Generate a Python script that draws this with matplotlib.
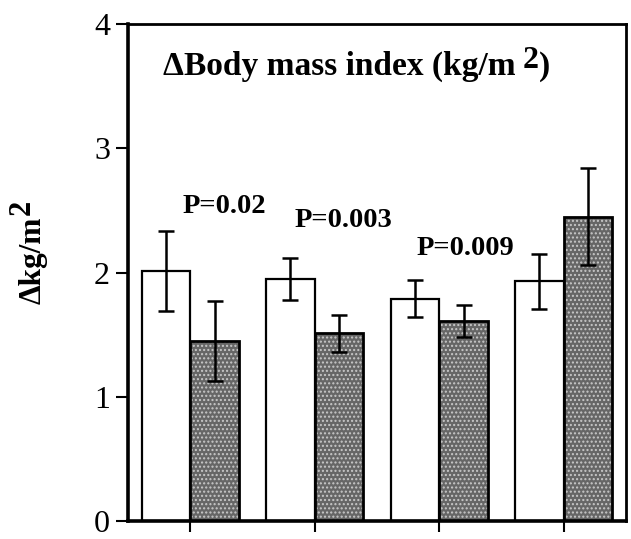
import matplotlib
matplotlib.use("Agg")
import matplotlib.pyplot as plt
import numpy as np

# data
groups = [0.5, 1.5, 2.5, 3.5]
white_vals = [2.01, 1.95, 1.79, 1.93]
white_err = [0.32, 0.17, 0.15, 0.22]
gray_vals = [1.45, 1.51, 1.61, 2.45]
gray_err = [0.32, 0.15, 0.13, 0.39]
p_labels = ["P=0.02", "P=0.003", "P=0.009"]
p_pos = [(0.442, 2.479), (1.341, 2.366), (2.321, 2.141)]
yticks = [0, 1, 2, 3, 4]

SERIF = "Liberation Serif"
W, H = 631, 539

fig = plt.figure(figsize=(W/100, H/100), dpi=100)
ax = fig.add_axes([128/W, 18/H, 498/W, 497/H])

off = 0.196
w = 0.39
xw = [g - off for g in groups]
xg = [g + off for g in groups]

ax.bar(xw, white_vals, width=w, color="white", edgecolor="black", linewidth=1.6, zorder=2)
# stipple fill for gray bars
ax.bar(xg, gray_vals, width=w, color="#666666", edgecolor="#c8c8c8", linewidth=0,
       hatch="....", zorder=2)
ax.bar(xg, gray_vals, width=w, fill=False, edgecolor="black", linewidth=2.0, zorder=3)

ax.errorbar(xw, white_vals, yerr=white_err, fmt="none", ecolor="black", elinewidth=1.8,
            capsize=6, capthick=1.8, zorder=4)
ax.errorbar(xg, gray_vals, yerr=gray_err, fmt="none", ecolor="black", elinewidth=1.8,
            capsize=6, capthick=1.8, zorder=4)

ax.set_xlim(0, 4)
ax.set_ylim(0, 4)
ax.set_yticks(yticks)
ax.set_yticklabels([str(t) for t in yticks], fontfamily=SERIF, fontsize=23)
ax.set_xticks(groups)
ax.set_xticklabels([])
ax.tick_params(axis="y", direction="out", length=9, width=1.5, pad=4)
ax.tick_params(axis="x", direction="out", length=8, width=1.5)
for s in ax.spines.values():
    s.set_linewidth(2.0)
ax.spines["left"].set_linewidth(2.6)
ax.spines["bottom"].set_linewidth(2.6)

for lab, (x, y) in zip(p_labels, p_pos):
    ax.text(x, y, lab, fontfamily=SERIF, fontweight="bold", fontsize=20.5,
            ha="left", va="baseline", zorder=5)

t1 = ax.text(0.281, 3.59, "\u0394Body mass index (kg/m", fontfamily=SERIF,
             fontweight="bold", fontsize=24, ha="left", va="baseline")
t2 = ax.annotate("2", xy=(1, 0), xycoords=t1, xytext=(5, 5), textcoords="offset points",
                 fontfamily=SERIF, fontweight="bold", fontsize=23, ha="left", va="bottom")
ax.annotate(")", xy=(1, 0), xycoords=t2, xytext=(0, -5), textcoords="offset points",
            fontfamily=SERIF, fontweight="bold", fontsize=24, ha="left", va="bottom")

fig.text(48/W, 1 - 304/H, "\u0394kg/m", fontfamily=SERIF, fontweight="bold",
         fontsize=22.5, rotation=90, ha="right", va="bottom")
fig.text(37/W, 1 - 215/H, "2", fontfamily=SERIF, fontweight="bold",
         fontsize=22, rotation=90, ha="right", va="bottom")

fig.savefig("out.png", dpi=100)
